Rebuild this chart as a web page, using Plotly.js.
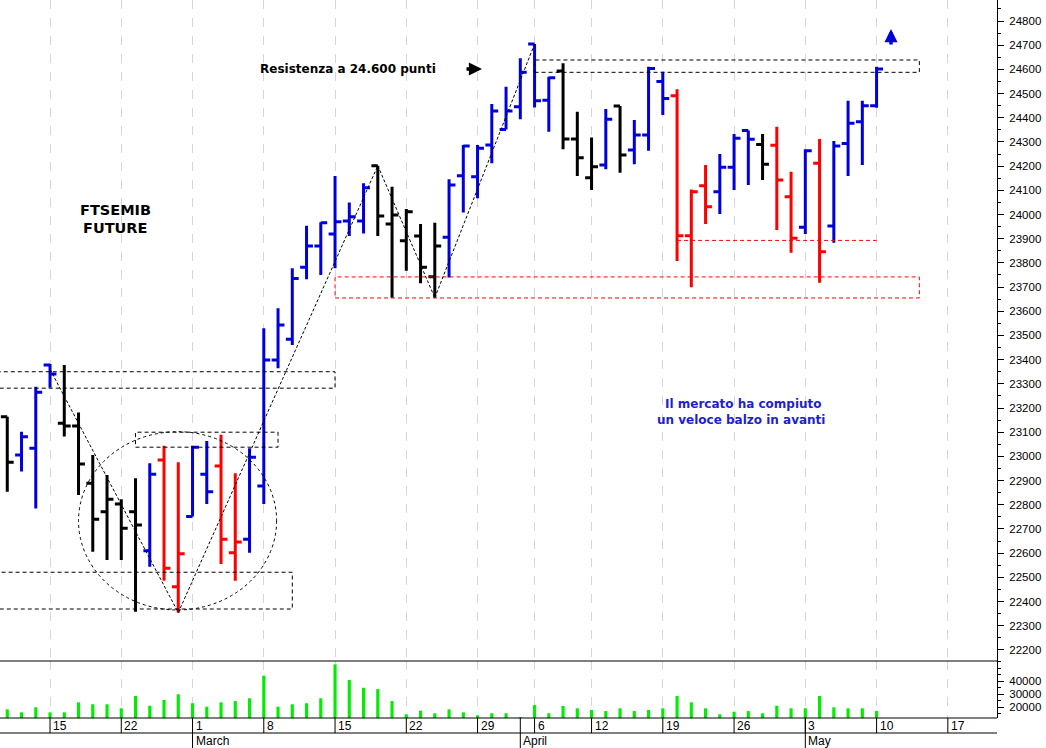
<!DOCTYPE html>
<html><head><meta charset="utf-8">
<script src="https://cdn.plot.ly/plotly-3.0.1.min.js"></script>
<style>html,body{margin:0;padding:0;background:#fff}#chart{width:1046px;height:748px}</style>
</head><body><div id="chart"></div>
<script>
// ---- data (FTSEMIB future, daily bars) ----
const dates=['2021-02-09','2021-02-10','2021-02-11','2021-02-12','2021-02-15','2021-02-16','2021-02-17','2021-02-18','2021-02-19','2021-02-22','2021-02-23','2021-02-24','2021-02-25','2021-02-26','2021-03-01','2021-03-02','2021-03-03','2021-03-04','2021-03-05','2021-03-08','2021-03-09','2021-03-10','2021-03-11','2021-03-12','2021-03-15','2021-03-16','2021-03-17','2021-03-18','2021-03-19','2021-03-22','2021-03-23','2021-03-24','2021-03-25','2021-03-26','2021-03-29','2021-03-30','2021-03-31','2021-04-01','2021-04-06','2021-04-07','2021-04-08','2021-04-09','2021-04-12','2021-04-13','2021-04-14','2021-04-15','2021-04-16','2021-04-19','2021-04-20','2021-04-21','2021-04-22','2021-04-23','2021-04-26','2021-04-27','2021-04-28','2021-04-29','2021-04-30','2021-05-03','2021-05-04','2021-05-05','2021-05-06','2021-05-07','2021-05-10'];
const openP=[23050,23164,23006,23034,23378,23137,23126,22889,22771,22803,22771,22610,22985,22461,22751,22926,22960,22602,22657,22878,23399,23484,23782,23870,23919,23973,23973,24202,23961,23892,23911,23743,23906,24160,24156,24287,24352,24446,24705,24473,24593,24312,24152,24205,24449,24267,24329,24550,24491,23912,24119,24094,24195,24347,24290,24286,24074,23947,24212,23953,24294,24384,24450];
const highP=[23150,23164,23102,23288,23382,23378,23181,23006,22923,22823,22910,22972,23044,22976,23044,23064,23089,22930,23034,23530,23612,23778,23954,23968,24159,24050,24129,24202,24115,24023,23961,23966,24146,24287,24287,24457,24528,24646,24705,24570,24625,24425,24318,24436,24449,24391,24611,24590,24518,24104,24205,24250,24333,24347,24333,24363,24177,24270,24312,24304,24470,24470,24611];
const lowP=[22990,22854,22937,22785,23284,23082,22840,22606,22572,22572,22358,22544,22486,22354,22751,22803,22555,22486,22602,22803,23364,23461,23732,23750,23778,23911,23922,23911,23656,23768,23716,23656,23740,24008,24067,24212,24352,24394,24443,24342,24270,24159,24101,24187,24173,24208,24264,24411,23808,23699,23961,24002,24101,24122,24143,23936,23842,23919,23718,23883,24159,24205,24442];
const closeP=[23109,22976,23081,23265,23341,23126,22969,22740,22823,22703,22716,22926,22537,22597,23038,22854,22657,22646,22996,23399,23543,23736,23870,23966,23970,23991,24111,23994,23998,24012,23782,23870,24122,24283,24274,24428,24428,24588,24470,24566,24312,24235,24198,24394,24246,24329,24604,24480,23912,24094,24032,24195,24315,24311,24208,24143,23902,24264,23846,24283,24377,24450,24602];
// bar state: u = rising (blue), d = falling (red), n = neutral (black)
const trend=['u','n','u','u','u','n','n','n','n','n','n','u','d','d','u','u','d','d','u','u','u','u','u','u','u','u','u','n','n','n','n','n','u','u','u','u','u','u','u','u','n','n','n','u','n','u','u','u','d','d','d','u','u','u','n','d','d','u','d','u','u','u','u'];
const volume=[17000,18200,15900,19800,15900,15900,23600,22100,22100,19000,28500,21000,25400,29800,22900,20200,23600,24600,26700,44100,20200,22100,22900,26700,52800,40800,34800,33800,24600,14400,17200,15200,18200,15900,13600,15200,15200,12300,21500,15200,20800,19000,17700,16900,19000,16900,17700,19000,28500,23600,19000,14400,16400,16900,15200,21000,19000,19000,28500,19800,19000,19000,16900];
const holidays=['2021-04-02','2021-04-05'];
const weekTicks=['2021-02-15','2021-02-22','2021-03-01','2021-03-08','2021-03-15','2021-03-22','2021-03-29','2021-04-06','2021-04-12','2021-04-19','2021-04-26','2021-05-03','2021-05-10','2021-05-17'];
const weekLabels=['15','22','1','8','15','22','29','6','12','19','26','3','10','17'];
const monthTicks=['2021-03-01','2021-04-01','2021-05-03'];
const monthLabels=['March','April','May'];

// trading-day index (weekends & holidays skipped)
function ix(d){
  const t=new Date(dates[0]+'T00:00:00Z'), end=new Date(d+'T00:00:00Z');
  let n=0;
  while(t<end){t.setUTCDate(t.getUTCDate()+1);const w=t.getUTCDay();const s=t.toISOString().slice(0,10);
    if(w!==0&&w!==6&&!holidays.includes(s))n++;}
  return n;
}
const xs=dates.map(ix);
const colors={u:'#0000dd',d:'#ff0000',n:'#000000'};
const traces=[];
['n','u','d'].forEach(k=>{
  const idx=trend.map((t,i)=>t===k?i:-1).filter(i=>i>=0);
  traces.push({type:'ohlc',x:idx.map(i=>xs[i]),open:idx.map(i=>openP[i]),high:idx.map(i=>highP[i]),
    low:idx.map(i=>lowP[i]),close:idx.map(i=>closeP[i]),xaxis:'x',yaxis:'y',tickwidth:0.45,
    line:{width:3},increasing:{line:{color:colors[k],width:3}},decreasing:{line:{color:colors[k],width:3}},
    hoverinfo:'skip',showlegend:false});
});
traces.push({type:'bar',x:xs,y:volume,xaxis:'x2',yaxis:'y2',marker:{color:'#00ee00',line:{width:0}},width:0.22,hoverinfo:'skip',showlegend:false});

const H=718; // plot-area height in px
const P=v=>v/H;
const axFont={family:'Liberation Sans, Arial, sans-serif',size:11.5,color:'#000'};
const xr=[0.49,70.45];
const xcommon={range:xr,tickvals:weekTicks.map(ix),showticklabels:false,ticks:'',showgrid:true,gridcolor:'#d4d4e4',griddash:'dash',gridwidth:1,zeroline:false,showline:false,fixedrange:true};

const dash='4px,3px';
const shapes=[
  {type:'line',xref:'paper',yref:'paper',x0:0,x1:1,y0:P(57),y1:P(57),line:{color:'#000',width:1}},
  {type:'line',xref:'paper',yref:'paper',x0:0,x1:1,y0:0,y1:0,line:{color:'#000',width:1}},
  {type:'line',xref:'paper',yref:'paper',x0:0,x1:1,y0:P(-15),y1:P(-15),line:{color:'#000',width:1}},
  {type:'rect',xref:'x',yref:'y',x0:ix('2021-04-06'),x1:ix('2021-05-13'),y0:24588,y1:24639,line:{color:'#000',width:1,dash:dash}},
  {type:'rect',xref:'x',yref:'y',x0:ix('2021-03-15'),x1:ix('2021-05-13'),y0:23655,y1:23742,line:{color:'#ff0000',width:1,dash:dash}},
  {type:'line',xref:'x',yref:'y',x0:ix('2021-04-20'),x1:ix('2021-05-10'),y0:23893,y1:23893,line:{color:'#ff0000',width:1,dash:dash}},
  {type:'rect',xref:'x',yref:'y',x0:-1,x1:ix('2021-03-15'),y0:23282,y1:23350,line:{color:'#000',width:1,dash:dash}},
  {type:'rect',xref:'x',yref:'y',x0:ix('2021-02-23'),x1:ix('2021-03-09'),y0:23038,y1:23100,line:{color:'#000',width:1,dash:dash}},
  {type:'rect',xref:'x',yref:'y',x0:-1,x1:ix('2021-03-10'),y0:22369,y1:22521,line:{color:'#000',width:1,dash:dash}},
  {type:'circle',xref:'x',yref:'y',x0:ix('2021-02-17'),x1:ix('2021-03-09')-0.1,y0:22365,y1:23102,line:{color:'#000',width:1,dash:'3px,3px'}},
  {type:'line',xref:'x',yref:'y',x0:ix('2021-02-15'),y0:23360,x1:ix('2021-02-26'),y1:22354,line:{color:'#000',width:1,dash:'3px,2px'}},
  {type:'line',xref:'x',yref:'y',x0:ix('2021-02-26'),y0:22354,x1:ix('2021-03-18'),y1:24202,line:{color:'#000',width:1,dash:'3px,2px'}},
  {type:'line',xref:'x',yref:'y',x0:ix('2021-03-18'),y0:24202,x1:ix('2021-03-24'),y1:23656,line:{color:'#000',width:1,dash:'3px,2px'}},
  {type:'line',xref:'x',yref:'y',x0:ix('2021-03-24'),y0:23656,x1:ix('2021-04-06'),y1:24705,line:{color:'#000',width:1,dash:'3px,2px'}}
];
weekTicks.forEach(d=>shapes.push({type:'line',xref:'x',yref:'paper',x0:ix(d),x1:ix(d),y0:0,y1:P(-15),line:{color:'#000',width:1}}));
monthTicks.forEach(d=>shapes.push({type:'line',xref:'x',yref:'paper',x0:ix(d),x1:ix(d),y0:0,y1:P(-30),line:{color:'#000',width:1}}));

const dateFont={family:'Liberation Sans, Arial, sans-serif',size:12,color:'#000'};
const annotations=[];
weekTicks.forEach((d,i)=>annotations.push({xref:'x',yref:'paper',x:ix(d),y:P(-7.5),text:weekLabels[i],showarrow:false,xanchor:'left',yanchor:'middle',xshift:1,font:dateFont}));
monthTicks.forEach((d,i)=>annotations.push({xref:'x',yref:'paper',x:ix(d),y:P(-22.5),text:monthLabels[i],showarrow:false,xanchor:'left',yanchor:'middle',xshift:1,font:dateFont}));
const bold={family:'DejaVu Sans, Verdana, sans-serif',color:'#000'};
annotations.push(
  {xref:'paper',yref:'paper',x:115/997,y:(H-210)/H,text:'<b>FTSEMIB</b>',showarrow:false,xanchor:'center',yanchor:'middle',font:{...bold,size:14.5}},
  {xref:'paper',yref:'paper',x:115/997,y:(H-227.5)/H,text:'<b>FUTURE</b>',showarrow:false,xanchor:'center',yanchor:'middle',font:{...bold,size:14.5}},
  {xref:'paper',yref:'paper',x:258/997,y:(H-69)/H,text:'<b>Resistenza a 24.600 punti</b>',showarrow:false,xanchor:'left',yanchor:'middle',font:{...bold,size:12}},
  {xref:'paper',yref:'paper',x:743/997,y:(H-404)/H,text:'<b>Il mercato ha compiuto</b>',showarrow:false,xanchor:'center',yanchor:'middle',font:{...bold,size:12,color:'#1f1fcc'}},
  {xref:'paper',yref:'paper',x:741/997,y:(H-419.5)/H,text:'<b>un veloce balzo in avanti</b>',showarrow:false,xanchor:'center',yanchor:'middle',font:{...bold,size:12,color:'#1f1fcc'}},
  {xref:'paper',yref:'paper',x:482/997,y:(H-69)/H,text:'',showarrow:true,ax:-17,ay:0,arrowhead:2,arrowsize:0.75,arrowwidth:3.5,arrowcolor:'#000',standoff:0},
  {xref:'paper',yref:'paper',x:891/997,y:(H-29)/H,text:'',showarrow:true,ax:0,ay:17,arrowhead:2,arrowsize:0.75,arrowwidth:3.5,arrowcolor:'#0000dd',standoff:0}
);

const layout={
  width:1046,height:748,margin:{l:0,r:49,t:0,b:30,pad:0},
  paper_bgcolor:'#fff',plot_bgcolor:'#fff',showlegend:false,hovermode:false,dragmode:false,
  xaxis:{...xcommon,anchor:'y',domain:[0,1],rangeslider:{visible:false}},
  xaxis2:{...xcommon,anchor:'y2',domain:[0,1],matches:'x'},
  yaxis:{domain:[P(57),1],range:[22154,24887],side:'right',anchor:'x',tick0:0,dtick:100,tickformat:'d',ticks:'outside',ticklen:6,tickwidth:1,tickcolor:'#000',
    showline:true,linecolor:'#000',linewidth:1,showgrid:false,zeroline:false,tickfont:axFont,ticklabelstandoff:3,
    minor:{ticks:'outside',ticklen:3,dtick:50,tick0:0,tickcolor:'#000',showgrid:false},fixedrange:true},
  yaxis2:{domain:[0,P(57)],range:[11547,55380],side:'right',anchor:'x2',tickmode:'array',tickvals:[20000,30000,40000],ticktext:['20000','30000','40000'],ticks:'outside',ticklen:6,tickwidth:1,tickcolor:'#000',
    showline:true,linecolor:'#000',linewidth:1,showgrid:false,zeroline:false,tickfont:axFont,ticklabelstandoff:3,
    minor:{ticks:'outside',ticklen:3,dtick:5000,tick0:0,tickcolor:'#000',showgrid:false},fixedrange:true},
  shapes:shapes,annotations:annotations
};
Plotly.newPlot('chart',traces,layout,{staticPlot:true,displayModeBar:false});
</script></body></html>
